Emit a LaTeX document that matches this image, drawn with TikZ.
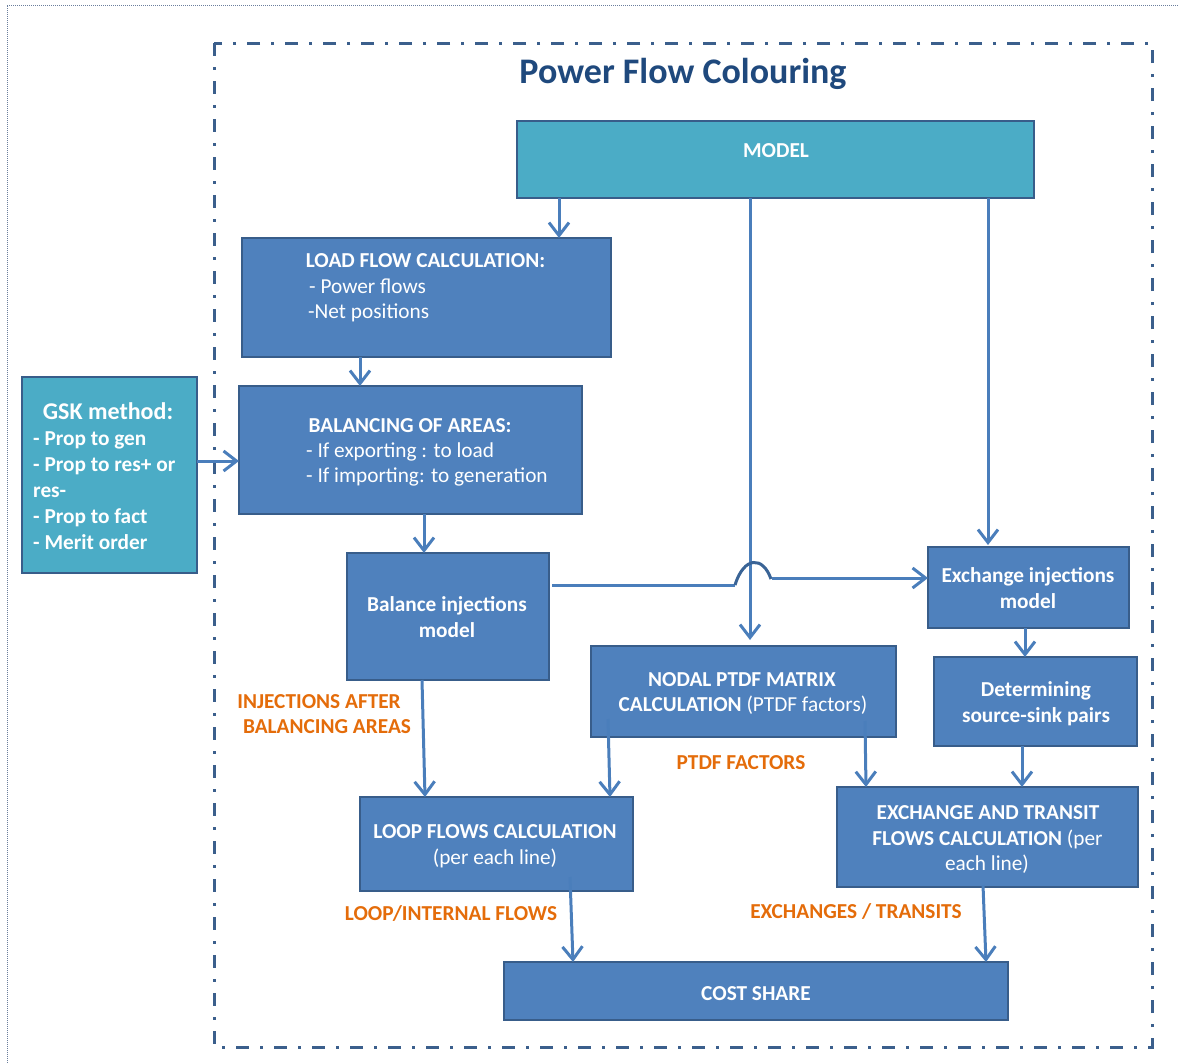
\documentclass[tikz,border=0pt]{standalone}
\usepackage{fontspec}
\setmainfont{Carlito}
\usetikzlibrary{arrows.meta,calc}
\definecolor{boxfill}{HTML}{4F81BD}
\definecolor{boxline}{HTML}{385D8A}
\definecolor{tealfill}{HTML}{4BACC6}
\definecolor{arrowc}{HTML}{4A7EBB}
\definecolor{humpc}{HTML}{3A6496}
\definecolor{labelc}{HTML}{E46C0A}
\definecolor{titlec}{HTML}{1F497D}
\definecolor{framec}{HTML}{3B5F8C}
\definecolor{pagec}{HTML}{6A7E9C}
\begin{document}
\begin{tikzpicture}[x=1pt,y=-1pt,
  box/.style={draw=boxline, line width=2.5pt, fill=boxfill, rectangle,
    anchor=north west, inner sep=0pt, outer sep=0pt},
  tealbox/.style={box, fill=tealfill},
  txt/.style={text=white, inner sep=0pt, anchor=base,
    font=\fontsize{21.3}{25.6}\selectfont},
  txtb/.style={txt, font=\fontsize{21.3}{25.6}\selectfont\bfseries},
  lbl/.style={text=labelc, inner sep=0pt, anchor=base,
    font=\fontsize{21.3}{25.6}\selectfont\bfseries},
  flow/.style={draw=arrowc, line width=3pt,
    -{Straight Barb[length=13pt,width=20pt]}},
  plain/.style={draw=arrowc, line width=3pt},
  hump/.style={draw=humpc, line width=3pt},
  frame/.style={draw=framec, line width=3pt,
    dash pattern=on 13pt off 11pt on 3pt off 11pt},
  pageedge/.style={draw=pagec, line width=1pt, dash pattern=on 1pt off 1pt},
]
\useasboundingbox (0,0) rectangle (1179,1063);

% page edge and dash-dot frame
\draw[pageedge] (7,1063) -- (7,5) -- (1179,5);
\draw[frame] (214,43) rectangle (1152,1047);

% title
\node[text=titlec, inner sep=0pt, anchor=base,
  font=\fontsize{36}{40}\selectfont\bfseries] (title) at (683,83) {Power Flow Colouring};

% boxes
\node[tealbox, minimum width=517, minimum height=77] (model) at (517,121) {};
\node[box, minimum width=369, minimum height=119] (lf) at (242,238) {};
\node[box, minimum width=343, minimum height=128] (bal) at (239,386) {};
\node[tealbox, minimum width=175, minimum height=196] (gsk) at (22,377) {};
\node[box, minimum width=202, minimum height=127] (binj) at (347,553) {};
\node[box, minimum width=201, minimum height=81] (xinj) at (928,547) {};
\node[box, minimum width=203, minimum height=89] (det) at (934,657) {};
\node[box, minimum width=305, minimum height=91] (ptdf) at (591,646) {};
\node[box, minimum width=301, minimum height=100] (extr) at (837,787) {};
\node[box, minimum width=273, minimum height=94] (loop) at (360,797) {};
\node[box, minimum width=504, minimum height=58] (cost) at (504,962) {};

% box texts
\node[txtb] (tmodel) at (776,157) {MODEL};

\node[txtb] (tlf1) at (425.5,267) {LOAD FLOW CALCULATION:};
\node[txt, anchor=base west] (tlf2) at (309,293) {- Power flows};
\node[txt, anchor=base west] (tlf3) at (308,318) {-Net positions};

\node[txtb] (tbal1) at (410,432) {BALANCING OF AREAS:};
\node[txt, anchor=base west] (tbal2) at (306,457.5) {- If exporting : to load};
\node[txt, anchor=base west] (tbal3) at (306,482.5) {- If importing: to generation};

\node[txtb, font=\fontsize{24}{28}\selectfont\bfseries] (tgsk1) at (108,419) {GSK method:};
\node[txtb, anchor=base west] (tgsk2) at (33,445) {- Prop to gen};
\node[txtb, anchor=base west] (tgsk3) at (33,471) {- Prop to res+ or};
\node[txtb, anchor=base west] (tgsk4) at (33,497) {res-};
\node[txtb, anchor=base west] (tgsk5) at (33,523) {- Prop to fact};
\node[txtb, anchor=base west] (tgsk6) at (33,549) {- Merit order};

\node[txtb] (tbinj1) at (447,611) {Balance injections};
\node[txtb] (tbinj2) at (447,637) {model};

\node[txtb] (txinj1) at (1028,582) {Exchange injections};
\node[txtb] (txinj2) at (1028,608) {model};

\node[txtb] (tdet1) at (1036,696) {Determining};
\node[txtb] (tdet2) at (1036,722.5) {source-sink pairs};

\node[txtb] (tptdf1) at (742,686) {NODAL PTDF MATRIX};
\node[txt] (tptdf2) at (743,711.5) {{\bfseries CALCULATION} (PTDF factors)};

\node[txtb] (textr1) at (988,819) {EXCHANGE AND TRANSIT};
\node[txt] (textr2) at (987.5,845) {{\bfseries FLOWS CALCULATION} (per};
\node[txt] (textr3) at (987,870) {each line)};

\node[txtb] (tloop1) at (495,838) {LOOP FLOWS CALCULATION};
\node[txt] (tloop2) at (495,864) {(per each line)};

\node[txtb] (tcost) at (756,1000) {COST SHARE};

% orange labels
\node[lbl] (linj1) at (319,708) {INJECTIONS AFTER};
\node[lbl] (linj2) at (327,733) {BALANCING AREAS};
\node[lbl] (lptdf) at (741,769) {PTDF FACTORS};
\node[lbl] (lloop) at (451,920) {LOOP/INTERNAL FLOWS};
\node[lbl] (lexch) at (856,918) {EXCHANGES / TRANSITS};

% connectors
\draw[flow] ($(model.south west)+(42,0)$) -- ($(lf.north west)+(317,0)$);
\draw[flow] ($(model.south west)+(233,0)$) -- ($(ptdf.north west)+(159,-6)$);
\draw[flow] ($(model.south west)+(471,0)$) -- ($(xinj.north west)+(60,-2)$);
\draw[flow] ($(lf.south west)+(118,0)$) -- ($(bal.north west)+(121,0)$);
\draw[flow] ($(gsk.north east)+(0,84)$) -- ($(bal.north west)+(0,75)$);
\draw[flow] ($(bal.south west)+(185,0)$) -- ($(binj.north west)+(77,0)$);

% balance injections to exchange injections, hopping over the vertical line
\coordinate (hopa) at ($(binj.north east)+(186,32)$);
\coordinate (hopb) at ($(xinj.north west)+(-157,32)$);
\coordinate (hopc) at ($(xinj.north west)+(-156,31)$);
\draw[plain] ($(binj.north east)+(3,32)$) -- (hopa);
\draw[hump] (hopa) .. controls ($(hopa)+(9,-29)$) and ($(hopb)+(-8,-23)$) .. (hopb);
\draw[flow] (hopc) -- ($(xinj.north west)+(0,31)$);

\draw[flow] ($(binj.south west)+(75,0)$) -- ($(loop.north west)+(65,0)$);
\draw[flow] ($(ptdf.south west)+(17,-18)$) -- ($(loop.north east)+(-23,0)$);
\draw[flow] ($(ptdf.south west)+(274,-16)$) -- ($(extr.north west)+(29,0)$);
\draw[flow] ($(xinj.south west)+(97,0)$) -- ($(det.north west)+(91,0)$);
\draw[flow] ($(det.south west)+(88,0)$) -- ($(extr.north west)+(185,0)$);
\draw[flow] ($(loop.south west)+(210,-14)$) -- ($(cost.north west)+(69,0)$);
\draw[flow] ($(extr.south west)+(146,-2)$) -- ($(cost.north west)+(482,0)$);
\end{tikzpicture}
\end{document}
